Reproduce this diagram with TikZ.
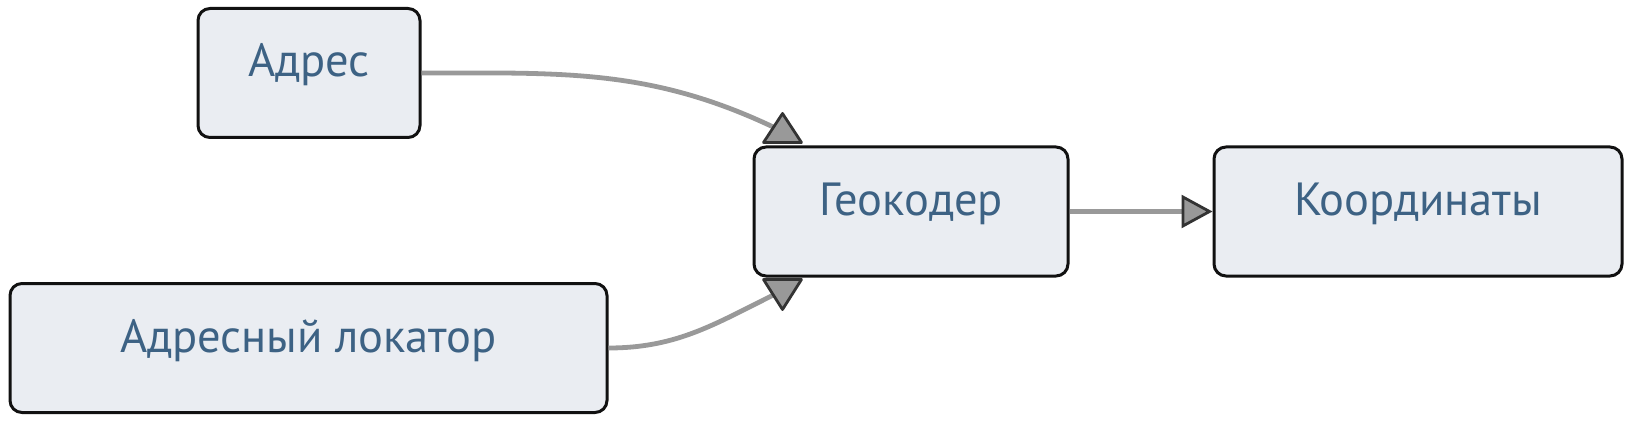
\documentclass[tikz,border=0pt]{standalone}
\usepackage{fontspec}
\setmainfont{PT Sans}
\usepackage{xcolor}
\usepackage{tikz}
\usetikzlibrary{arrows.meta,calc}
\definecolor{geoFill}{HTML}{EAEDF2}
\definecolor{geoText}{HTML}{3D6284}
\definecolor{geoEdge}{HTML}{111111}
\definecolor{geoLine}{HTML}{999999}
\definecolor{geoTip}{HTML}{333333}

\begin{document}
\begin{tikzpicture}[
  x=1pt,y=1pt,
  font=\fontsize{46.5}{52}\selectfont,
  stage/.style={draw=geoEdge,line width=3pt,rounded corners=12pt,fill=geoFill,
                text=geoText,inner sep=0pt,text height=68.5pt,text depth=60.5pt,
                align=center},
  flow/.style={draw=geoLine,line width=4.8pt},
  tip/.style={fill=geoLine,draw=geoTip,line width=2.8pt,line join=round}
]
\useasboundingbox (0,0) rectangle (1632,426);

\node[stage,minimum width=222pt] (adr) at (309,353)   {Адрес};
\node[stage,minimum width=597pt] (loc) at (308.5,78)  {Адресный локатор};
\node[stage,minimum width=314pt] (geo) at (911,214.5) {Геокодер};
\node[stage,minimum width=408pt] (crd) at (1418,214.5) {Координаты};

% Inputs into the geocoder
\draw[flow] (adr.east) to[out=0,in=154] ($(geo.north west)+(28,15)$);
\draw[flow] (loc.east) to[out=0,in=-154] ($(geo.south west)+(28,-14)$);
\draw[tip] ($(geo.north west)+(11,3)$) -- ($(geo.north west)+(49,3)$)
           -- ($(geo.north west)+(30,32)$) -- cycle;
\draw[tip] ($(geo.south west)+(11,-2)$) -- ($(geo.south west)+(49,-2)$)
           -- ($(geo.south west)+(30,-32)$) -- cycle;

% Output
\draw[flow,-{Triangle[length=31pt,width=33pt,fill=geoLine,color=geoTip,line width=2.8pt]}]
  (geo.east) -- (crd.west);
\end{tikzpicture}
\end{document}
